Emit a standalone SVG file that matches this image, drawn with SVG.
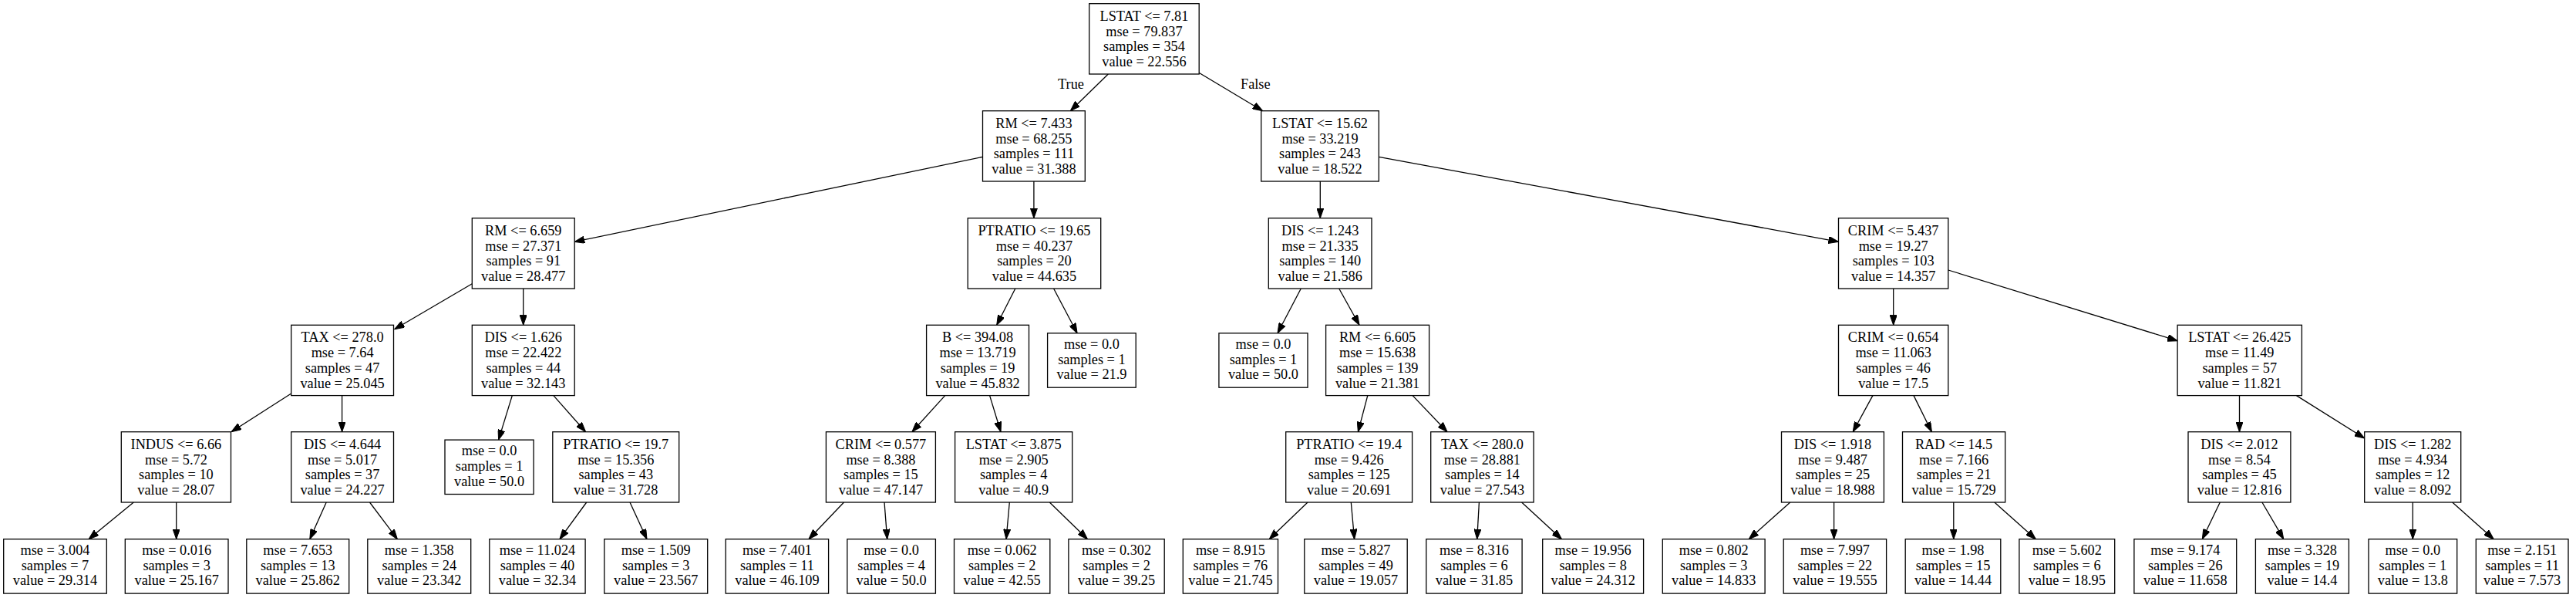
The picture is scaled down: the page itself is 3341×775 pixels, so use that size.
<svg xmlns="http://www.w3.org/2000/svg" width="3341" height="775" viewBox="0 0 3341 775">
<style>
.node rect{fill:#fff;stroke:#000;stroke-width:1.3}
.node text,.lbl{font-family:"Liberation Serif","Times New Roman",serif;font-size:18.3px;fill:#000;text-anchor:middle}
.edges line{stroke:#000;stroke-width:1.3;marker-end:url(#ah)}
</style>
<defs>
<marker id="ah" markerUnits="userSpaceOnUse" viewBox="0 0 13 9.2" refX="13" refY="4.6" markerWidth="13" markerHeight="9.2" orient="auto">
<path d="M0,0 L13,4.6 L0,9.2 z" fill="#000" stroke="#000" stroke-width="1"/>
</marker>
</defs>
<rect width="3341" height="775" fill="#fff"/>
<g class="edges">
<line x1="1437.3" y1="96" x2="1388.3" y2="143.7"/>
<line x1="1555" y1="94.3" x2="1637.7" y2="143.7"/>
<line x1="1274.5" y1="203.3" x2="745.2" y2="313.3"/>
<line x1="1340.9" y1="235" x2="1340.9" y2="282.7"/>
<line x1="1712.3" y1="235" x2="1712.3" y2="282.7"/>
<line x1="1788.3" y1="203.3" x2="2384.5" y2="313.3"/>
<line x1="612.3" y1="367.7" x2="511.6" y2="426.7"/>
<line x1="678.7" y1="374" x2="678.7" y2="421.3"/>
<line x1="1316.8" y1="374" x2="1292.7" y2="421.3"/>
<line x1="1366.6" y1="374" x2="1397.1" y2="431.8"/>
<line x1="1687.3" y1="374" x2="1657" y2="431.8"/>
<line x1="1736.7" y1="374" x2="1763" y2="421.3"/>
<line x1="2455.7" y1="374" x2="2455.7" y2="421.3"/>
<line x1="2526.8" y1="350" x2="2824.1" y2="441.7"/>
<line x1="377.7" y1="510" x2="300" y2="559.7"/>
<line x1="443.6" y1="512.6" x2="443.6" y2="559.7"/>
<line x1="664.3" y1="512.6" x2="646.6" y2="570.1"/>
<line x1="717.9" y1="512.6" x2="759.6" y2="559.7"/>
<line x1="1225.7" y1="512.6" x2="1182.9" y2="559.7"/>
<line x1="1283.6" y1="512.6" x2="1298" y2="559.7"/>
<line x1="1773.8" y1="512.6" x2="1761.4" y2="559.7"/>
<line x1="1832.1" y1="512.6" x2="1877.1" y2="559.7"/>
<line x1="2428.9" y1="512.6" x2="2403.2" y2="559.7"/>
<line x1="2482" y1="512.6" x2="2505.4" y2="559.7"/>
<line x1="2904.5" y1="512.6" x2="2904.5" y2="559.7"/>
<line x1="2978.4" y1="512.6" x2="3066.7" y2="568"/>
<line x1="173.3" y1="651" x2="115" y2="698.7"/>
<line x1="228.7" y1="651" x2="228.7" y2="698.7"/>
<line x1="423.2" y1="651" x2="401.8" y2="698.7"/>
<line x1="479.5" y1="651" x2="515.4" y2="698.7"/>
<line x1="760.7" y1="651" x2="725.9" y2="698.7"/>
<line x1="817" y1="651" x2="839" y2="698.7"/>
<line x1="1094.5" y1="651" x2="1048.9" y2="698.7"/>
<line x1="1147" y1="651" x2="1150.7" y2="698.7"/>
<line x1="1309.3" y1="651" x2="1305" y2="698.7"/>
<line x1="1361.3" y1="651" x2="1410.5" y2="698.7"/>
<line x1="1696" y1="651" x2="1646.2" y2="698.7"/>
<line x1="1752.3" y1="651" x2="1756.6" y2="698.7"/>
<line x1="1918.4" y1="651" x2="1915.7" y2="698.7"/>
<line x1="1973.6" y1="651" x2="2025.5" y2="698.7"/>
<line x1="2321.8" y1="651" x2="2268.2" y2="698.7"/>
<line x1="2378.6" y1="651" x2="2378.6" y2="698.7"/>
<line x1="2533.8" y1="651" x2="2533.8" y2="698.7"/>
<line x1="2586.8" y1="651" x2="2640.4" y2="698.7"/>
<line x1="2879.3" y1="651" x2="2856.3" y2="698.7"/>
<line x1="2933.9" y1="651" x2="2961.8" y2="698.7"/>
<line x1="3129.3" y1="651" x2="3129.3" y2="698.7"/>
<line x1="3180.7" y1="651" x2="3234.3" y2="698.7"/>
<text class="lbl" x="1389" y="115">True</text>
<text class="lbl" x="1628.3" y="115">False</text>
</g>
<g id="n0" class="node"><rect x="1412.7" y="4.7" width="142.5" height="91.3"/><text x="1483.95" y="26.7"><tspan x="1483.95">LSTAT &lt;= 7.81</tspan><tspan x="1483.95" dy="19.8">mse = 79.837</tspan><tspan x="1483.95" dy="19.8">samples = 354</tspan><tspan x="1483.95" dy="19.8">value = 22.556</tspan></text></g>
<g id="n1" class="node"><rect x="1274.5" y="143.7" width="132.8" height="91.3"/><text x="1340.9" y="165.7"><tspan x="1340.9">RM &lt;= 7.433</tspan><tspan x="1340.9" dy="19.8">mse = 68.255</tspan><tspan x="1340.9" dy="19.8">samples = 111</tspan><tspan x="1340.9" dy="19.8">value = 31.388</tspan></text></g>
<g id="n2" class="node"><rect x="1635.7" y="143.7" width="152.6" height="91.3"/><text x="1712" y="165.7"><tspan x="1712">LSTAT &lt;= 15.62</tspan><tspan x="1712" dy="19.8">mse = 33.219</tspan><tspan x="1712" dy="19.8">samples = 243</tspan><tspan x="1712" dy="19.8">value = 18.522</tspan></text></g>
<g id="n3" class="node"><rect x="612.3" y="282.7" width="132.9" height="91.3"/><text x="678.75" y="304.7"><tspan x="678.75">RM &lt;= 6.659</tspan><tspan x="678.75" dy="19.8">mse = 27.371</tspan><tspan x="678.75" dy="19.8">samples = 91</tspan><tspan x="678.75" dy="19.8">value = 28.477</tspan></text></g>
<g id="n4" class="node"><rect x="1255.2" y="282.7" width="172.5" height="91.3"/><text x="1341.45" y="304.7"><tspan x="1341.45">PTRATIO &lt;= 19.65</tspan><tspan x="1341.45" dy="19.8">mse = 40.237</tspan><tspan x="1341.45" dy="19.8">samples = 20</tspan><tspan x="1341.45" dy="19.8">value = 44.635</tspan></text></g>
<g id="n5" class="node"><rect x="1645.3" y="282.7" width="133.7" height="91.3"/><text x="1712.15" y="304.7"><tspan x="1712.15">DIS &lt;= 1.243</tspan><tspan x="1712.15" dy="19.8">mse = 21.335</tspan><tspan x="1712.15" dy="19.8">samples = 140</tspan><tspan x="1712.15" dy="19.8">value = 21.586</tspan></text></g>
<g id="n6" class="node"><rect x="2384.5" y="282.7" width="142.3" height="91.3"/><text x="2455.65" y="304.7"><tspan x="2455.65">CRIM &lt;= 5.437</tspan><tspan x="2455.65" dy="19.8">mse = 19.27</tspan><tspan x="2455.65" dy="19.8">samples = 103</tspan><tspan x="2455.65" dy="19.8">value = 14.357</tspan></text></g>
<g id="n7" class="node"><rect x="377.7" y="421.3" width="132.8" height="91.3"/><text x="444.1" y="443.3"><tspan x="444.1">TAX &lt;= 278.0</tspan><tspan x="444.1" dy="19.8">mse = 7.64</tspan><tspan x="444.1" dy="19.8">samples = 47</tspan><tspan x="444.1" dy="19.8">value = 25.045</tspan></text></g>
<g id="n8" class="node"><rect x="612.3" y="421.3" width="132.9" height="91.3"/><text x="678.75" y="443.3"><tspan x="678.75">DIS &lt;= 1.626</tspan><tspan x="678.75" dy="19.8">mse = 22.422</tspan><tspan x="678.75" dy="19.8">samples = 44</tspan><tspan x="678.75" dy="19.8">value = 32.143</tspan></text></g>
<g id="n9" class="node"><rect x="1201.6" y="421.3" width="132.9" height="91.3"/><text x="1268.05" y="443.3"><tspan x="1268.05">B &lt;= 394.08</tspan><tspan x="1268.05" dy="19.8">mse = 13.719</tspan><tspan x="1268.05" dy="19.8">samples = 19</tspan><tspan x="1268.05" dy="19.8">value = 45.832</tspan></text></g>
<g id="n10" class="node"><rect x="1358.6" y="431.8" width="114.6" height="70.4"/><text x="1415.9" y="451.8"><tspan x="1415.9">mse = 0.0</tspan><tspan x="1415.9" dy="19.8">samples = 1</tspan><tspan x="1415.9" dy="19.8">value = 21.9</tspan></text></g>
<g id="n11" class="node"><rect x="1580.9" y="431.8" width="115.1" height="70.4"/><text x="1638.45" y="451.8"><tspan x="1638.45">mse = 0.0</tspan><tspan x="1638.45" dy="19.8">samples = 1</tspan><tspan x="1638.45" dy="19.8">value = 50.0</tspan></text></g>
<g id="n12" class="node"><rect x="1719.6" y="421.3" width="134" height="91.3"/><text x="1786.6" y="443.3"><tspan x="1786.6">RM &lt;= 6.605</tspan><tspan x="1786.6" dy="19.8">mse = 15.638</tspan><tspan x="1786.6" dy="19.8">samples = 139</tspan><tspan x="1786.6" dy="19.8">value = 21.381</tspan></text></g>
<g id="n13" class="node"><rect x="2384.5" y="421.3" width="142.3" height="91.3"/><text x="2455.65" y="443.3"><tspan x="2455.65">CRIM &lt;= 0.654</tspan><tspan x="2455.65" dy="19.8">mse = 11.063</tspan><tspan x="2455.65" dy="19.8">samples = 46</tspan><tspan x="2455.65" dy="19.8">value = 17.5</tspan></text></g>
<g id="n14" class="node"><rect x="2824.1" y="421.3" width="161.3" height="91.3"/><text x="2904.75" y="443.3"><tspan x="2904.75">LSTAT &lt;= 26.425</tspan><tspan x="2904.75" dy="19.8">mse = 11.49</tspan><tspan x="2904.75" dy="19.8">samples = 57</tspan><tspan x="2904.75" dy="19.8">value = 11.821</tspan></text></g>
<g id="n15" class="node"><rect x="157.3" y="559.7" width="142.2" height="91.3"/><text x="228.4" y="581.7"><tspan x="228.4">INDUS &lt;= 6.66</tspan><tspan x="228.4" dy="19.8">mse = 5.72</tspan><tspan x="228.4" dy="19.8">samples = 10</tspan><tspan x="228.4" dy="19.8">value = 28.07</tspan></text></g>
<g id="n16" class="node"><rect x="377.7" y="559.7" width="132.8" height="91.3"/><text x="444.1" y="581.7"><tspan x="444.1">DIS &lt;= 4.644</tspan><tspan x="444.1" dy="19.8">mse = 5.017</tspan><tspan x="444.1" dy="19.8">samples = 37</tspan><tspan x="444.1" dy="19.8">value = 24.227</tspan></text></g>
<g id="n17" class="node"><rect x="577" y="570.1" width="115.1" height="70.4"/><text x="634.55" y="590.1"><tspan x="634.55">mse = 0.0</tspan><tspan x="634.55" dy="19.8">samples = 1</tspan><tspan x="634.55" dy="19.8">value = 50.0</tspan></text></g>
<g id="n18" class="node"><rect x="716.8" y="559.7" width="163.9" height="91.3"/><text x="798.75" y="581.7"><tspan x="798.75">PTRATIO &lt;= 19.7</tspan><tspan x="798.75" dy="19.8">mse = 15.356</tspan><tspan x="798.75" dy="19.8">samples = 43</tspan><tspan x="798.75" dy="19.8">value = 31.728</tspan></text></g>
<g id="n19" class="node"><rect x="1071.4" y="559.7" width="142" height="91.3"/><text x="1142.4" y="581.7"><tspan x="1142.4">CRIM &lt;= 0.577</tspan><tspan x="1142.4" dy="19.8">mse = 8.388</tspan><tspan x="1142.4" dy="19.8">samples = 15</tspan><tspan x="1142.4" dy="19.8">value = 47.147</tspan></text></g>
<g id="n20" class="node"><rect x="1238.6" y="559.7" width="152.1" height="91.3"/><text x="1314.65" y="581.7"><tspan x="1314.65">LSTAT &lt;= 3.875</tspan><tspan x="1314.65" dy="19.8">mse = 2.905</tspan><tspan x="1314.65" dy="19.8">samples = 4</tspan><tspan x="1314.65" dy="19.8">value = 40.9</tspan></text></g>
<g id="n21" class="node"><rect x="1667.7" y="559.7" width="163.9" height="91.3"/><text x="1749.65" y="581.7"><tspan x="1749.65">PTRATIO &lt;= 19.4</tspan><tspan x="1749.65" dy="19.8">mse = 9.426</tspan><tspan x="1749.65" dy="19.8">samples = 125</tspan><tspan x="1749.65" dy="19.8">value = 20.691</tspan></text></g>
<g id="n22" class="node"><rect x="1855.7" y="559.7" width="133.4" height="91.3"/><text x="1922.4" y="581.7"><tspan x="1922.4">TAX &lt;= 280.0</tspan><tspan x="1922.4" dy="19.8">mse = 28.881</tspan><tspan x="1922.4" dy="19.8">samples = 14</tspan><tspan x="1922.4" dy="19.8">value = 27.543</tspan></text></g>
<g id="n23" class="node"><rect x="2310.5" y="559.7" width="132.9" height="91.3"/><text x="2376.95" y="581.7"><tspan x="2376.95">DIS &lt;= 1.918</tspan><tspan x="2376.95" dy="19.8">mse = 9.487</tspan><tspan x="2376.95" dy="19.8">samples = 25</tspan><tspan x="2376.95" dy="19.8">value = 18.988</tspan></text></g>
<g id="n24" class="node"><rect x="2467.5" y="559.7" width="133.2" height="91.3"/><text x="2534.1" y="581.7"><tspan x="2534.1">RAD &lt;= 14.5</tspan><tspan x="2534.1" dy="19.8">mse = 7.166</tspan><tspan x="2534.1" dy="19.8">samples = 21</tspan><tspan x="2534.1" dy="19.8">value = 15.729</tspan></text></g>
<g id="n25" class="node"><rect x="2838" y="559.7" width="132.9" height="91.3"/><text x="2904.45" y="581.7"><tspan x="2904.45">DIS &lt;= 2.012</tspan><tspan x="2904.45" dy="19.8">mse = 8.54</tspan><tspan x="2904.45" dy="19.8">samples = 45</tspan><tspan x="2904.45" dy="19.8">value = 12.816</tspan></text></g>
<g id="n26" class="node"><rect x="3066.7" y="559.7" width="125" height="91.3"/><text x="3129.2" y="581.7"><tspan x="3129.2">DIS &lt;= 1.282</tspan><tspan x="3129.2" dy="19.8">mse = 4.934</tspan><tspan x="3129.2" dy="19.8">samples = 12</tspan><tspan x="3129.2" dy="19.8">value = 8.092</tspan></text></g>
<g id="l0" class="node"><rect x="4.7" y="698.7" width="133.6" height="70.4"/><text x="71.5" y="718.7"><tspan x="71.5">mse = 3.004</tspan><tspan x="71.5" dy="19.8">samples = 7</tspan><tspan x="71.5" dy="19.8">value = 29.314</tspan></text></g>
<g id="l1" class="node"><rect x="162.3" y="698.7" width="133.7" height="70.4"/><text x="229.15" y="718.7"><tspan x="229.15">mse = 0.016</tspan><tspan x="229.15" dy="19.8">samples = 3</tspan><tspan x="229.15" dy="19.8">value = 25.167</tspan></text></g>
<g id="l2" class="node"><rect x="319.8" y="698.7" width="132.9" height="70.4"/><text x="386.25" y="718.7"><tspan x="386.25">mse = 7.653</tspan><tspan x="386.25" dy="19.8">samples = 13</tspan><tspan x="386.25" dy="19.8">value = 25.862</tspan></text></g>
<g id="l3" class="node"><rect x="476.8" y="698.7" width="133.9" height="70.4"/><text x="543.75" y="718.7"><tspan x="543.75">mse = 1.358</tspan><tspan x="543.75" dy="19.8">samples = 24</tspan><tspan x="543.75" dy="19.8">value = 23.342</tspan></text></g>
<g id="l4" class="node"><rect x="634.8" y="698.7" width="124.3" height="70.4"/><text x="696.95" y="718.7"><tspan x="696.95">mse = 11.024</tspan><tspan x="696.95" dy="19.8">samples = 40</tspan><tspan x="696.95" dy="19.8">value = 32.34</tspan></text></g>
<g id="l5" class="node"><rect x="783.8" y="698.7" width="133.9" height="70.4"/><text x="850.75" y="718.7"><tspan x="850.75">mse = 1.509</tspan><tspan x="850.75" dy="19.8">samples = 3</tspan><tspan x="850.75" dy="19.8">value = 23.567</tspan></text></g>
<g id="l6" class="node"><rect x="941.2" y="698.7" width="133.4" height="70.4"/><text x="1007.9" y="718.7"><tspan x="1007.9">mse = 7.401</tspan><tspan x="1007.9" dy="19.8">samples = 11</tspan><tspan x="1007.9" dy="19.8">value = 46.109</tspan></text></g>
<g id="l7" class="node"><rect x="1098.8" y="698.7" width="114.6" height="70.4"/><text x="1156.1" y="718.7"><tspan x="1156.1">mse = 0.0</tspan><tspan x="1156.1" dy="19.8">samples = 4</tspan><tspan x="1156.1" dy="19.8">value = 50.0</tspan></text></g>
<g id="l8" class="node"><rect x="1237.5" y="698.7" width="124.3" height="70.4"/><text x="1299.65" y="718.7"><tspan x="1299.65">mse = 0.062</tspan><tspan x="1299.65" dy="19.8">samples = 2</tspan><tspan x="1299.65" dy="19.8">value = 42.55</tspan></text></g>
<g id="l9" class="node"><rect x="1385.9" y="698.7" width="124.3" height="70.4"/><text x="1448.05" y="718.7"><tspan x="1448.05">mse = 0.302</tspan><tspan x="1448.05" dy="19.8">samples = 2</tspan><tspan x="1448.05" dy="19.8">value = 39.25</tspan></text></g>
<g id="l10" class="node"><rect x="1534.3" y="698.7" width="123.2" height="70.4"/><text x="1595.9" y="718.7"><tspan x="1595.9">mse = 8.915</tspan><tspan x="1595.9" dy="19.8">samples = 76</tspan><tspan x="1595.9" dy="19.8">value = 21.745</tspan></text></g>
<g id="l11" class="node"><rect x="1691.8" y="698.7" width="133.4" height="70.4"/><text x="1758.5" y="718.7"><tspan x="1758.5">mse = 5.827</tspan><tspan x="1758.5" dy="19.8">samples = 49</tspan><tspan x="1758.5" dy="19.8">value = 19.057</tspan></text></g>
<g id="l12" class="node"><rect x="1849.8" y="698.7" width="124.3" height="70.4"/><text x="1911.95" y="718.7"><tspan x="1911.95">mse = 8.316</tspan><tspan x="1911.95" dy="19.8">samples = 6</tspan><tspan x="1911.95" dy="19.8">value = 31.85</tspan></text></g>
<g id="l13" class="node"><rect x="2000.7" y="698.7" width="130.9" height="70.4"/><text x="2066.15" y="718.7"><tspan x="2066.15">mse = 19.956</tspan><tspan x="2066.15" dy="19.8">samples = 8</tspan><tspan x="2066.15" dy="19.8">value = 24.312</tspan></text></g>
<g id="l14" class="node"><rect x="2156.3" y="698.7" width="132.8" height="70.4"/><text x="2222.7" y="718.7"><tspan x="2222.7">mse = 0.802</tspan><tspan x="2222.7" dy="19.8">samples = 3</tspan><tspan x="2222.7" dy="19.8">value = 14.833</tspan></text></g>
<g id="l15" class="node"><rect x="2313.2" y="698.7" width="133.4" height="70.4"/><text x="2379.9" y="718.7"><tspan x="2379.9">mse = 7.997</tspan><tspan x="2379.9" dy="19.8">samples = 22</tspan><tspan x="2379.9" dy="19.8">value = 19.555</tspan></text></g>
<g id="l16" class="node"><rect x="2471.2" y="698.7" width="123.6" height="70.4"/><text x="2533" y="718.7"><tspan x="2533">mse = 1.98</tspan><tspan x="2533" dy="19.8">samples = 15</tspan><tspan x="2533" dy="19.8">value = 14.44</tspan></text></g>
<g id="l17" class="node"><rect x="2618.9" y="698.7" width="123.8" height="70.4"/><text x="2680.8" y="718.7"><tspan x="2680.8">mse = 5.602</tspan><tspan x="2680.8" dy="19.8">samples = 6</tspan><tspan x="2680.8" dy="19.8">value = 18.95</tspan></text></g>
<g id="l18" class="node"><rect x="2767.9" y="698.7" width="132.8" height="70.4"/><text x="2834.3" y="718.7"><tspan x="2834.3">mse = 9.174</tspan><tspan x="2834.3" dy="19.8">samples = 26</tspan><tspan x="2834.3" dy="19.8">value = 11.658</tspan></text></g>
<g id="l19" class="node"><rect x="2925.4" y="698.7" width="121" height="70.4"/><text x="2985.9" y="718.7"><tspan x="2985.9">mse = 3.328</tspan><tspan x="2985.9" dy="19.8">samples = 19</tspan><tspan x="2985.9" dy="19.8">value = 14.4</tspan></text></g>
<g id="l20" class="node"><rect x="3072" y="698.7" width="114.7" height="70.4"/><text x="3129.35" y="718.7"><tspan x="3129.35">mse = 0.0</tspan><tspan x="3129.35" dy="19.8">samples = 1</tspan><tspan x="3129.35" dy="19.8">value = 13.8</tspan></text></g>
<g id="l21" class="node"><rect x="3211.3" y="698.7" width="119.7" height="70.4"/><text x="3271.15" y="718.7"><tspan x="3271.15">mse = 2.151</tspan><tspan x="3271.15" dy="19.8">samples = 11</tspan><tspan x="3271.15" dy="19.8">value = 7.573</tspan></text></g>
</svg>
